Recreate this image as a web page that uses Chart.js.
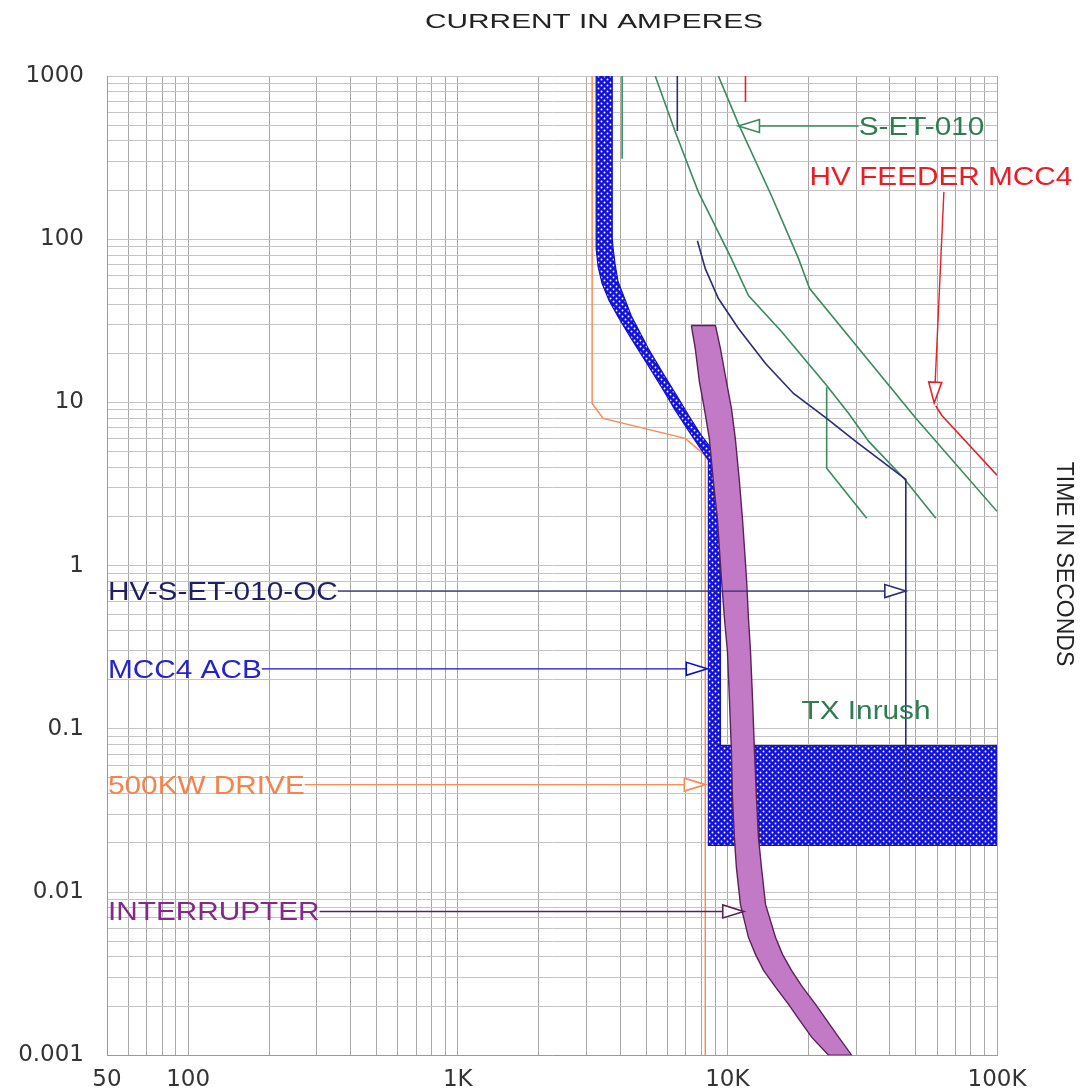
<!DOCTYPE html>
<html><head><meta charset="utf-8">
<script src="https://cdn.jsdelivr.net/npm/chart.js@4/dist/chart.umd.min.js"></script>
<style>html,body{margin:0;padding:0;background:#fff;}canvas{display:block;}</style>
</head><body>
<canvas id="c" width="1080" height="1092"></canvas>
<script>
// ---------- axis ticks ----------
const xMin = 50, xMax = 100000, yMin = 0.001, yMax = 1000;
const xTickValues = [50, 100, 1000, 10000, 100000];
const xTickLabels = ['50', '100', '1K', '10K', '100K'];
const yTickValues = [1000, 100, 10, 1, 0.1, 0.01, 0.001];
const yTickLabels = ['1000', '100', '10', '1', '0.1', '0.01', '0.001'];
const xTitle = 'CURRENT IN AMPERES';
const yTitle = 'TIME IN SECONDS';

// ---------- series: current (A) / time (s) ----------
// MCC4 ACB band (closed outline)
const acbI = [3260,3260,3315,3430,3640,3970,4400,5000,5730,6410,7160,7940,8500,8500,100000,100000,9420,9420,8720,8000,7290,6580,5780,5090,4400,3930,3830,3770,3740,3740,3260];
const acbT = [1000,87.5,67.9,53.4,42.1,32.6,24.6,17.6,12.2,8.94,6.74,5.23,4.42,0.0193,0.0193,0.079,0.079,4.7,5.23,6.28,7.98,10.6,15.0,21.4,34.0,55.0,70.8,87.5,101,1000,1000];
// INTERRUPTER band (closed outline)
const intI = [7350,7600,7870,8210,8570,8870,9180,9500,9750,10000,10170,10350,10440,10620,10800,11180,11970,12710,13620,15090,16860,18520,20530,23750,
              28910,25860,23340,21240,19000,17290,16010,15090,13850,13380,13040,12820,12600,12390,12180,11970,11770,11370,11080,10700,10350,9915,9420,9030,7350];
const intT = [29.6,21.4,13.44,9.19,6.02,3.29,1.952,0.839,0.477,0.300,0.155,0.0733,0.0378,0.0215,0.0141,0.00839,0.00527,0.00415,0.00331,0.00261,0.00205,0.00164,0.00129,0.001,
              0.001,0.00129,0.00164,0.00205,0.00261,0.00331,0.00415,0.00527,0.00839,0.0141,0.0215,0.0378,0.0733,0.155,0.300,0.477,0.839,1.952,3.29,6.02,9.19,13.44,21.4,29.6,29.6];
// HV-S-ET-010-OC
const ocI = [7740,8280,9260,10990,13850,17590,23340,29910,37370,45900,45900,100000];
const ocT = [97.9,66.0,43.3,28.4,17.3,11.35,7.98,5.77,4.36,3.38,0.0378,0.0378];
const ocTopI = [6520,6520];
const ocTopT = [1000,461];
// 500KW DRIVE
const driveI = [3150,3150,3460,6980,8280,8280];
const driveT = [1000,9.86,7.98,6.02,4.74,0.001];
// S-ET-010
const setShortI = [4070,4070];
const setShortT = [1000,311];
const setAI = [5400,6410,7800,10350,11970,15870,23350,28180,33440,45120,59300];
const setAT = [1000,454,195,76,45.1,27.2,12.7,8.56,5.77,3.43,1.95];
const setBI = [23350,23350,32860];
const setBT = [12.4,3.95,1.95];
const setCI = [9260,10990,14570,18360,20180,50000,100000];
const setCT = [1000,509,184.5,76,49.8,8.0,2.15];
// HV FEEDER MCC4
const hvTopI = [11670,11670];
const hvTopT = [1000,693];
const hvI = [59300,62450,100000];
const hvT = [9.5,8.32,3.58];

// ---------- annotations ----------
const leftLabels = ['HV-S-ET-010-OC', 'MCC4 ACB', '500KW DRIVE', 'INTERRUPTER'];
const leftLabelT = [0.698, 0.233, 0.0455, 0.0076];
const leftTipI = [45900, 8420, 8280, 11500];
const setLabel = 'S-ET-010';   const setLabelI = 30690; const setLabelT = 494; const setTipI = 10990;
const hvLabel = 'HV FEEDER MCC4'; const hvLabelI = 20170; const hvLabelT = 243;
const hvArrowFromI = 63530; const hvArrowFromT = 195; const hvTipI = 58500; const hvTipT = 9.9;
const txLabel = 'TX Inrush'; const txLabelI = 18840; const txLabelT = 0.1297;

// ---------- styles ----------
const C = {
  navy: '#2b2b78', navyText: '#1f1f66',
  blue: '#1212dc', blueEdge: '#1010c8', blueText: '#2424cc',
  orange: '#ff8a52', orangeText: '#f5844c',
  purpleFill: '#c27ac6', purpleEdge: '#5a2258', purpleText: '#84288a',
  green: '#3a8a5e', greenText: '#2e7d50',
  red: '#e8202a', redText: '#ec1c24'
};
const FONT = '"Liberation Sans", Arial, sans-serif';

function pts(I, T) { return I.map((v, i) => ({x: v, y: T[i]})); }
function lineDs(I, T, color, w) {
  return {data: pts(I, T), showLine: true, borderColor: color, borderWidth: w || 1.5,
          pointRadius: 0, fill: false, tension: 0};
}
function makePattern() {
  const c = document.createElement('canvas'); c.width = 6; c.height = 6;
  const g = c.getContext('2d');
  g.fillStyle = C.blue; g.fillRect(0, 0, 6, 6);
  g.fillStyle = '#ffffff';
  g.beginPath(); g.arc(1.5, 1.5, 0.95, 0, Math.PI * 2); g.fill();
  g.beginPath(); g.arc(4.5, 4.5, 0.95, 0, Math.PI * 2); g.fill();
  return document.getElementById('c').getContext('2d').createPattern(c, 'repeat');
}

function gridValues(lo, hi) {
  const out = [];
  for (let e = -4; e <= 6; e++) for (let m = 1; m <= 9; m++) {
    const v = parseFloat((m * Math.pow(10, e)).toPrecision(6));
    if (v >= lo * 0.9999 && v <= hi * 1.0001) out.push(v);
  }
  return out;
}
function labelFor(v, vals, labels) {
  const i = vals.findIndex(t => Math.abs(t - v) / t < 1e-6);
  return i >= 0 ? labels[i] : '';
}

function drawText(ctx, txt, x, yc, color, size, sx) {
  ctx.save();
  ctx.font = size + 'px ' + FONT;
  ctx.fillStyle = color;
  ctx.textAlign = 'left';
  ctx.textBaseline = 'alphabetic';
  ctx.translate(x, yc + size * 0.716 / 2);
  ctx.scale(sx, 1);
  ctx.fillText(txt, 0, 0);
  const w = ctx.measureText(txt).width * sx;
  ctx.restore();
  return w;
}
function arrow(ctx, x0, y0, x1, y1, color) {
  const dx = x1 - x0, dy = y1 - y0, len = Math.hypot(dx, dy);
  const ux = dx / len, uy = dy / len, L = 21, hw = 6.5;
  const bx = x1 - ux * L, by = y1 - uy * L;
  ctx.save();
  ctx.strokeStyle = color; ctx.lineWidth = 1.4;
  ctx.beginPath(); ctx.moveTo(x0, y0); ctx.lineTo(bx, by); ctx.stroke();
  ctx.beginPath();
  ctx.moveTo(x1, y1);
  ctx.lineTo(bx - uy * hw, by + ux * hw);
  ctx.lineTo(bx + uy * hw, by - ux * hw);
  ctx.closePath();
  ctx.fillStyle = '#ffffff'; ctx.fill();
  ctx.lineWidth = 1.6; ctx.stroke();
  ctx.restore();
}

const annoPlugin = {
  id: 'anno',
  afterDatasetsDraw(chart) {
    const ctx = chart.ctx, xs = chart.scales.x, ys = chart.scales.y;
    const X = v => xs.getPixelForValue(v), Y = v => ys.getPixelForValue(v);
    const size = 25, sx = 1.19;
    const lc = [C.navy, C.blueEdge, C.orange, C.purpleEdge];
    const tc = [C.navyText, C.blueText, C.orangeText, C.purpleText];
    leftLabels.forEach((txt, i) => {
      const py = Y(leftLabelT[i]);
      const x0 = X(xMin) + 1;
      const w = drawText(ctx, txt, x0, py, tc[i], size, sx);
      arrow(ctx, x0 + w, py, X(leftTipI[i]), py, lc[i]);
    });
    // S-ET-010
    const sy = Y(setLabelT), sxp = X(setLabelI);
    drawText(ctx, setLabel, sxp, sy, C.greenText, size, sx);
    arrow(ctx, sxp, sy, X(setTipI), sy, C.green);
    // HV FEEDER MCC4
    drawText(ctx, hvLabel, X(hvLabelI), Y(hvLabelT), C.redText, size, sx);
    arrow(ctx, X(hvArrowFromI), Y(hvArrowFromT), X(hvTipI), Y(hvTipT), C.red);
    // TX Inrush
    drawText(ctx, txLabel, X(txLabelI), Y(txLabelT), C.greenText, size, sx);
  },
  afterDraw(chart) {
    const ctx = chart.ctx;
    // top title
    ctx.save();
    ctx.font = '21px ' + FONT;
    ctx.fillStyle = '#222';
    ctx.textAlign = 'center'; ctx.textBaseline = 'alphabetic';
    ctx.translate(594, 28); ctx.scale(1.42, 1);
    ctx.fillText(xTitle, 0, 0);
    ctx.restore();
    // right title
    ctx.save();
    ctx.font = '23px ' + FONT;
    ctx.fillStyle = '#222';
    ctx.textAlign = 'center'; ctx.textBaseline = 'alphabetic';
    ctx.translate(1057, 564); ctx.rotate(Math.PI / 2);
    ctx.fillText(yTitle, 0, 0);
    ctx.restore();
  }
};

const pattern = makePattern();
const datasets = [
  lineDs(hvI, hvT, C.red, 1.6),
  lineDs(hvTopI, hvTopT, C.red, 1.6),
  lineDs(ocI, ocT, C.navy, 1.6),
  lineDs(ocTopI, ocTopT, C.navy, 1.6),
  lineDs(setShortI, setShortT, C.green, 1.6),
  lineDs(setAI, setAT, C.green, 1.6),
  lineDs(setBI, setBT, C.green, 1.6),
  lineDs(setCI, setCT, C.green, 1.6),
  {data: pts(intI, intT), showLine: true, borderColor: C.purpleEdge, borderWidth: 1.4,
   backgroundColor: C.purpleFill, fill: 'shape', pointRadius: 0, tension: 0},
  {data: pts(acbI, acbT), showLine: true, borderColor: C.blueEdge, borderWidth: 1.2,
   backgroundColor: pattern, fill: 'shape', pointRadius: 0, tension: 0},
  lineDs(driveI, driveT, C.orange, 1.5)
];

const xGrid = gridValues(xMin, xMax);
const yGrid = gridValues(yMin, yMax);

new Chart(document.getElementById('c'), {
  type: 'scatter',
  data: {datasets},
  options: {
    responsive: false, animation: false, devicePixelRatio: 1,
    layout: {padding: {top: 76, right: 83, left: 0, bottom: 0}},
    plugins: {legend: {display: false}, tooltip: {enabled: false}, title: {display: false}},
    scales: {
      x: {
        type: 'logarithmic', min: xMin, max: xMax, position: 'bottom',
        afterBuildTicks(s) { s.ticks = xGrid.map(v => ({value: v})); },
        afterFit(s) { s.height = 34; },
        grid: {color: '#a8a8a8', lineWidth: 1, drawTicks: false},
        border: {display: true, color: '#999'},
        ticks: {autoSkip: false, maxRotation: 0, minRotation: 0, padding: 11, color: '#333',
                font: {family: '"DejaVu Sans", sans-serif', size: 23},
                callback: v => labelFor(v, xTickValues, xTickLabels)}
      },
      y: {
        type: 'logarithmic', min: yMin, max: yMax, position: 'left',
        afterBuildTicks(s) { s.ticks = yGrid.map(v => ({value: v})); },
        afterFit(s) { s.width = 107; },
        grid: {color: '#c4c4c4', lineWidth: 1, drawTicks: false},
        border: {display: true, color: '#999'},
        ticks: {autoSkip: false, padding: 23, color: '#333',
                font: {family: '"DejaVu Sans", sans-serif', size: 23},
                callback: v => labelFor(v, yTickValues, yTickLabels)}
      }
    }
  },
  plugins: [annoPlugin]
});
</script>
</body></html>
